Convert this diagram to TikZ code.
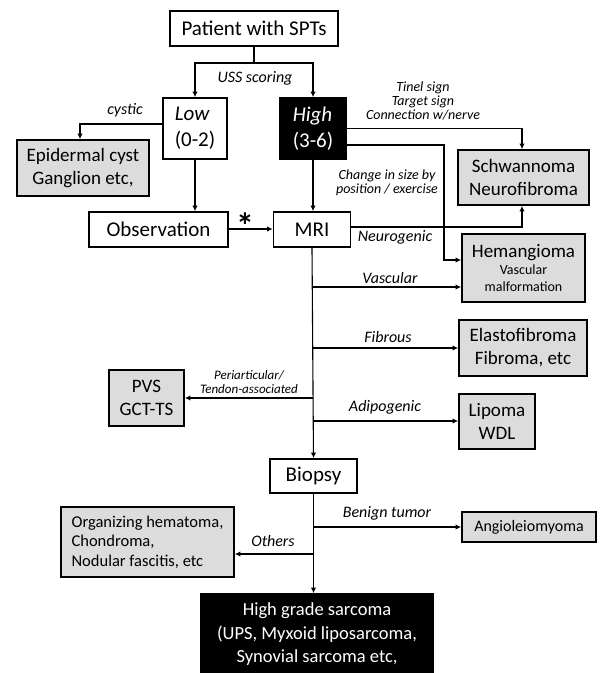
\documentclass[tikz,border=0pt]{standalone}
\usepackage{fontspec}
\setmainfont{Carlito}
\usetikzlibrary{arrows.meta,calc}
\definecolor{boxgray}{HTML}{DCDCDC}
\begin{document}
\begin{tikzpicture}[x=1pt,y=-1pt,
        box/.style={draw, line width=1.8pt, inner sep=0pt, align=center, font=\fontsize{21}{25}\selectfont},
        result/.style={box, fill=boxgray, font=\fontsize{19}{23}\selectfont},
        dark/.style={box, fill=black, text=white},
        lbl/.style={font=\fontsize{16}{19}\selectfont\itshape},
        smalllbl/.style={font=\fontsize{14}{14}\selectfont\itshape, align=center},
        link/.style={line width=1.1pt, -{Latex[length=5.5pt,width=5.5pt]}}]
    \useasboundingbox (0,0) rectangle (605,673);
    % steps
    \node[box, minimum width=168, minimum height=35] (pat) at (254,28.5) {Patient with SPTs};
    \node[box, minimum width=64, minimum height=61, align=left, font=\fontsize{21}{26}\selectfont] (low) at (195,128.5) {\textit{Low}\\ (0-2)};
    \node[dark, minimum width=66, minimum height=61, align=left, font=\fontsize{21}{26}\selectfont] (high) at (313,128.5) {\textit{High}\\ (3-6)};
    \node[box, minimum width=139, minimum height=35] (obs) at (158.5,229.5) {Observation};
    \node[box, minimum width=77, minimum height=35] (mri) at (312,229.5) {MRI};
    \node[box, minimum width=87, minimum height=34] (bio) at (313.5,476) {Biopsy};
    \node[dark, minimum width=232, minimum height=81, font=\fontsize{18.5}{23.5}\selectfont] (sar) at (317,634.5) {High grade sarcoma\\(UPS, Myxoid liposarcoma,\\Synovial sarcoma etc,};
    % results
    \node[result, minimum width=132, minimum height=56] (epi) at (83,168) {Epidermal cyst\\Ganglion etc,};
    \node[result, minimum width=131, minimum height=55] (schw) at (523.5,177.5) {Schwannoma\\Neurofibroma};
    \node[result, minimum width=123, minimum height=68, font=\fontsize{14}{17}\selectfont] (hem) at (523.5,268) {{\fontsize{19}{23}\selectfont Hemangioma}\\Vascular\\malformation};
    \node[result, minimum width=128, minimum height=56] (ela) at (523,348) {Elastofibroma\\Fibroma, etc};
    \node[result, minimum width=75, minimum height=56] (pvs) at (146.5,398) {PVS\\GCT-TS};
    \node[result, minimum width=76, minimum height=55] (lip) at (497,421.5) {Lipoma\\WDL};
    \node[result, minimum width=173, minimum height=70, align=left, font=\fontsize{16.5}{19.5}\selectfont] (org) at (147.5,542) {Organizing hematoma,\\Chondroma,\\Nodular fascitis, etc};
    \node[result, minimum width=134, minimum height=30, font=\fontsize{16}{19}\selectfont] (ang) at (529,527) {Angioleiomyoma};
    % trunk points
    \coordinate (split) at (254,63);
    \coordinate (vas) at (313,287);
    \coordinate (fib) at (313,348);
    \coordinate (per) at (313,398);
    \coordinate (adi) at (313,421);
    \coordinate (ben) at (313,527);
    \coordinate (oth) at (313,554);
    \coordinate (bend) at (444,260);
    % connectors
    \draw[line width=1.1pt] (pat.south) -- (split);
    \draw[link] (split) -| (low.north);
    \draw[link] (split) -| (high.north);
    \node[lbl] (uss) at (255,78) {USS scoring};
    \draw[link] ([yshift=4.5pt]low.west) -| ([xshift=-3pt]epi.north);
    \node[lbl] (cys) at (125,110) {cystic};
    \draw[link] (low.south) -- (low.south |- obs.north);
    \draw[link] (obs.east |- 0,229) -- (mri.west |- 0,229);
    \node[font=\fontsize{36}{36}\selectfont\bfseries] (star) at (245,226) {*};
    \draw[link] (high.south) -- (high.south |- mri.north);
    \draw[link] (high.east) -| ([xshift=-1.5pt]schw.north);
    \node[smalllbl] (tin) at (423,101) {Tinel sign\\Target sign\\Connection w/nerve};
    \draw[link] ([yshift=-16.5pt]high.east) -| (bend) -- (bend -| hem.west);
    \node[smalllbl] (chg) at (387,183) {Change in size by\\position / exercise};
    \draw[link] (mri.east |- 0,227) -| ([xshift=-1.5pt]schw.south);
    \node[lbl] (neu) at (395,237) {Neurogenic};
    \draw[link] (mri.south) -- (bio.north);
    \draw[link] (vas) -- (vas -| hem.west);
    \node[lbl] (vasl) at (390,278) {Vascular};
    \draw[link] (fib) -- (fib -| ela.west);
    \node[lbl] (fibl) at (388,337) {Fibrous};
    \draw[link] (per) -- (per -| pvs.east);
    \node[font=\fontsize{13}{14}\selectfont\itshape, align=center] (perl) at (249,382) {Periarticular/\\Tendon-associated};
    \draw[link] (adi) -- (adi -| lip.west);
    \node[lbl] (adil) at (385,407) {Adipogenic};
    \draw[link] (bio.south) -- (bio.south |- sar.north);
    \draw[link] (ben) -- (ben -| ang.west);
    \node[lbl] (benl) at (387,513) {Benign tumor};
    \draw[link] (oth) -- (oth -| org.east);
    \node[lbl] (othl) at (273,541) {Others};
\end{tikzpicture}
\end{document}
